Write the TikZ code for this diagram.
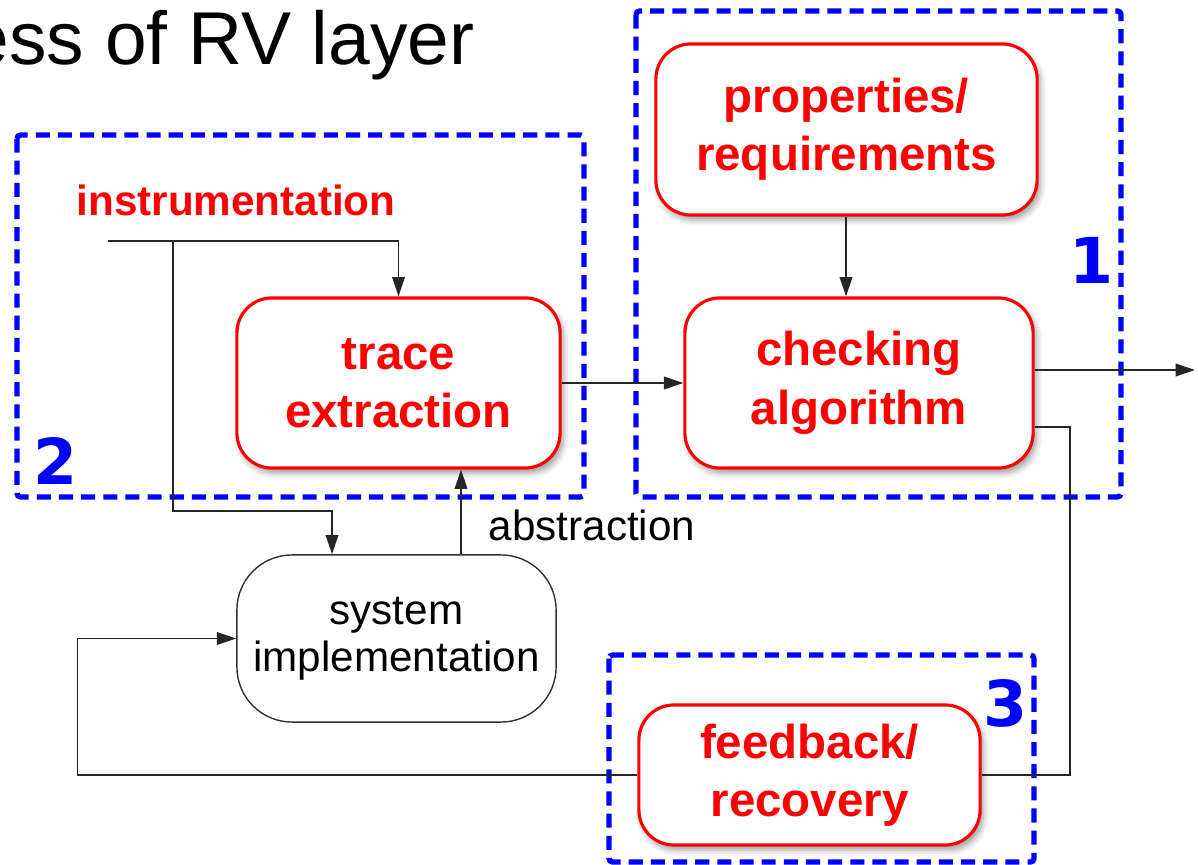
\documentclass[tikz,border=0pt]{standalone}
\usepackage{fontspec}
\setmainfont{Liberation Sans}
\newfontfamily\numfont{DejaVu Sans}
\usepackage{tikz}
\usetikzlibrary{arrows.meta,shadows.blur}
\definecolor{rvred}{HTML}{FF0000}
\definecolor{rvblue}{HTML}{0000FF}

\begin{document}
\begin{tikzpicture}[x=0.01cm,y=-0.01cm,
  >={Triangle[length=5.5pt,width=3.6pt]},
  redbox/.style={draw=rvred,line width=0.9pt,fill=white,rounded corners=0.35cm,
    text=rvred,align=center,inner sep=0pt,
    font=\fontsize{13.5}{16.6}\selectfont\bfseries,
    blur shadow={shadow xshift=0.9pt,shadow yshift=-1.4pt,shadow blur radius=1.8pt,shadow opacity=40}},
  sysbox/.style={draw=black!80,line width=0.4pt,fill=white,rounded corners=0.55cm,
    align=center,inner sep=0pt,font=\fontsize{12}{13.4}\selectfont},
  groupbox/.style={draw=rvblue,line width=1.5pt,dash pattern=on 4pt off 2.3pt,rounded corners=1pt},
  grouplabel/.style={text=rvblue,font=\numfont\fontsize{18}{18}\selectfont\bfseries},
  flow/.style={draw=black!85,line width=0.45pt}]
\useasboundingbox (0,0) rectangle (1198,865);

\node[anchor=base west,inner sep=0pt,font=\fontsize{21.3}{21.3}\selectfont] (title) at (-33,65) {ess of RV layer};

\draw[groupbox] (636,11) rectangle (1121,497);
\draw[groupbox] (17,135) rectangle (584,497);
\draw[groupbox] (609,655) rectangle (1034,862);
\node[grouplabel] (one) at (1091,260) {1};
\node[grouplabel] (two) at (56,461) {2};
\node[grouplabel] (three) at (1005,703) {3};

\node[redbox,minimum width=3.81cm,minimum height=1.71cm] (prop) at (846.5,129.5) {properties/\\requirements};
\node[redbox,minimum width=3.48cm,minimum height=1.70cm] (check) at (859,383) {checking\\algorithm};
\node[redbox,minimum width=3.23cm,minimum height=1.70cm] (trace) at (398.5,383) {trace\\extraction};
\node[redbox,minimum width=3.41cm,minimum height=1.40cm] (fb) at (809.5,775) {feedback/\\recovery};
\node[sysbox,minimum width=3.19cm,minimum height=1.67cm] (sys) at (396.5,638.5) {system\\implementation};

\node[text=rvred,font=\fontsize{12}{12}\selectfont\bfseries] (instr) at (236,200) {instrumentation};
\node[font=\fontsize{12}{12}\selectfont] (abs) at (592,525) {abstraction};

\coordinate (in) at (108,241);
\coordinate (split) at (173,241);
\coordinate (bend) at (332,511);
\coordinate (out) at (1195,370);
\coordinate (turn) at (1070,427);

\draw[flow,->] (in) -| (trace.north);
\draw[flow,->] (split) |- (bend) -- (bend |- sys.north);
\draw[flow,->] (sys.north -| 461,0) -- (trace.south -| 461,0);
\draw[flow,->] (trace) -- (check);
\draw[flow,->] (prop.south -| 846,0) -- (check.north -| 846,0);
\draw[flow,->] (check.east |- out) -- (out);
\draw[flow] (check.east |- turn) -- (turn) |- (fb.east);
\draw[flow,->] (fb.west) -- ++(-560,0) |- (sys.west);
\end{tikzpicture}
\end{document}
